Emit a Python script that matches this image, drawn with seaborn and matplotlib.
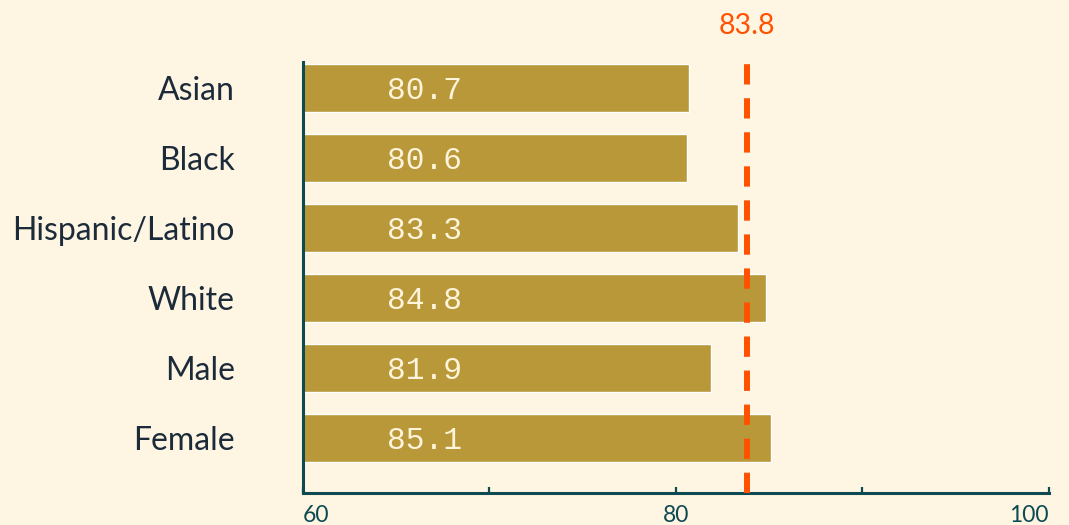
import matplotlib
matplotlib.use("Agg")
import matplotlib.pyplot as plt
import seaborn as sns
import pandas as pd

# Data
groups = ['Asian', 'Black', 'Hispanic/Latino', 'White', 'Male', 'Female']
rates = [80.7, 80.6, 83.3, 84.8, 81.9, 85.1]
overall = 83.8
major_ticks = [60, 80, 100]
minor_ticks = [70, 90]

bg = '#FEF5E2'
bar_color = '#B9983A'
accent = '#FF5100'
teal = '#0D4A52'
navy = '#1C2B3A'

sns.set_theme(style='white')
plt.rcParams['font.family'] = ['Lato', 'DejaVu Sans']

df = pd.DataFrame({'group': groups, 'rate': rates})

fig = plt.figure(figsize=(10.69, 5.25), dpi=100, facecolor=bg)
ax = fig.add_axes([0.2834, 0.061, 0.6979, 0.821])
ax.set_facecolor(bg)

sns.barplot(data=df, x='rate', y='group', color=bar_color, saturation=1,
            width=0.686, orient='h', ax=ax)

ax.set_xlim(60, 100)
ax.set_ylim(5.786, -0.371)

# value labels inside bars
for i, v in enumerate(rates):
    ax.text(64.5, i, f'{v:.1f}', family='Liberation Mono', fontsize=22.5,
            color='#FFF4DC', ha='left', va='center_baseline')

# overall reference line
ax.axvline(overall, ymin=0, ymax=1.005, color=accent, lw=4.3,
           dashes=(3.4, 2.3), solid_capstyle='butt', dash_capstyle='butt',
           clip_on=False, zorder=3)
ax.annotate(f'{overall}', xy=(overall, 1.0), xycoords=('data', 'axes fraction'),
            xytext=(0, 28), textcoords='offset points', ha='center',
            va='center_baseline', color=accent, fontsize=20.5)

# axes styling
for side in ['top', 'right']:
    ax.spines[side].set_visible(False)
for side in ['left', 'bottom']:
    ax.spines[side].set_color(teal)
    ax.spines[side].set_linewidth(2.2)

ax.set_xticks(major_ticks)
ax.set_xticks(minor_ticks, minor=True)
ax.tick_params(axis='x', which='both', direction='in', length=4.5, width=1.6,
               color=teal, labelcolor=teal, labelsize=16.5, pad=9, bottom=True)
xlabels = ax.get_xticklabels()
xlabels[0].set_ha('left')
xlabels[-1].set_ha('right')

ax.tick_params(axis='y', length=0, pad=49, labelsize=23, labelcolor=navy)
ax.set_xlabel('')
ax.set_ylabel('')

fig.savefig('out.png', dpi=100, facecolor=bg)
